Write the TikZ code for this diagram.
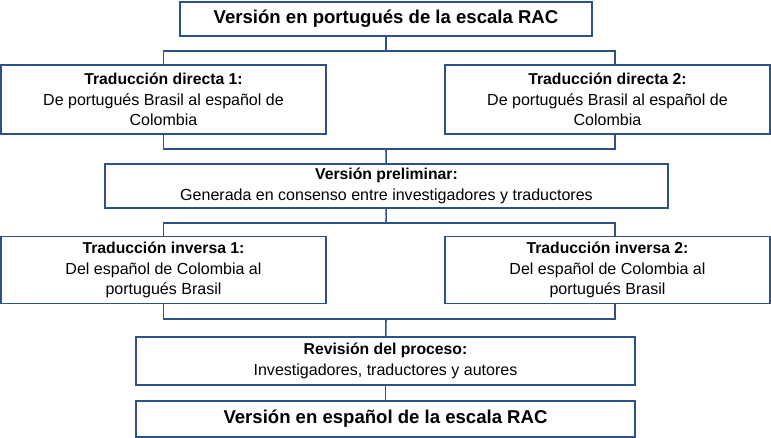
\documentclass[tikz,border=0pt]{standalone}
\usepackage{fontspec}
\setmainfont{Liberation Sans}
\usepackage{tikz}
\usetikzlibrary{positioning}
\definecolor{boxblue}{RGB}{44,82,138}
\newcommand{\boxhead}[1]{{\fontsize{11.2}{14.6}\selectfont\bfseries #1}}

\begin{document}
\begin{tikzpicture}[x=0.025cm,y=-0.025cm,
  box/.style={draw=boxblue,line width=1.1pt,align=center,inner sep=2pt,font=\fontsize{11.4}{14.6}\selectfont},
  titlebox/.style={box,font=\fontsize{13.2}{16}\selectfont\bfseries},
  link/.style={draw=boxblue,line width=1.1pt}]
\useasboundingbox (0,0) rectangle (771,438);
\node[titlebox,minimum width=10.3cm,minimum height=0.85cm] (orig) at (386,19) {Versión en portugués de la escala RAC};
\node[box,minimum width=8.125cm,minimum height=1.725cm] (dir1) at (163.5,99.5) {\boxhead{Traducción directa 1:}\\De portugués Brasil al español de\\Colombia};
\node[box,minimum width=8.125cm,minimum height=1.725cm] (dir2) at (607.5,99.5) {\boxhead{Traducción directa 2:}\\De portugués Brasil al español de\\Colombia};
\node[box,minimum width=14.075cm,minimum height=1.1cm] (prel) at (386.5,186) {\boxhead{Versión preliminar:}\\Generada en consenso entre investigadores y traductores};
\node[box,minimum width=8.125cm,minimum height=1.675cm] (inv1) at (163.5,270) {\boxhead{Traducción inversa 1:}\\Del español de Colombia al\\portugués Brasil};
\node[box,minimum width=8.125cm,minimum height=1.675cm] (inv2) at (607.5,270) {\boxhead{Traducción inversa 2:}\\Del español de Colombia al\\portugués Brasil};
\node[box,minimum width=12.475cm,minimum height=1.2cm] (rev) at (385.5,361) {\boxhead{Revisión del proceso:}\\Investigadores, traductores y autores};
\node[titlebox,minimum width=12.475cm,minimum height=0.9cm] (final) at (385.5,419) {Versión en español de la escala RAC};
% buses
\coordinate (bus1) at (386,51);
\coordinate (bus2) at (386,149);
\coordinate (bus3) at (386,223);
\coordinate (bus4) at (386,319);
\draw[link] (orig) -- (bus1);
\draw[link] (dir1.north) |- (bus1) -| ([xshift=0.19cm]dir2.north);
\draw[link] (dir1.south) |- (bus2) -| ([xshift=0.19cm]dir2.south);
\draw[link] (bus2) -- (prel);
\draw[link] (prel) -- (bus3);
\draw[link] (inv1.north) |- (bus3) -| ([xshift=0.19cm]inv2.north);
\draw[link] (inv1.south) |- (bus4) -| ([xshift=0.19cm]inv2.south);
\draw[link] (bus4) -- (rev);
\draw[link] (rev) -- (final);
\end{tikzpicture}
\end{document}
